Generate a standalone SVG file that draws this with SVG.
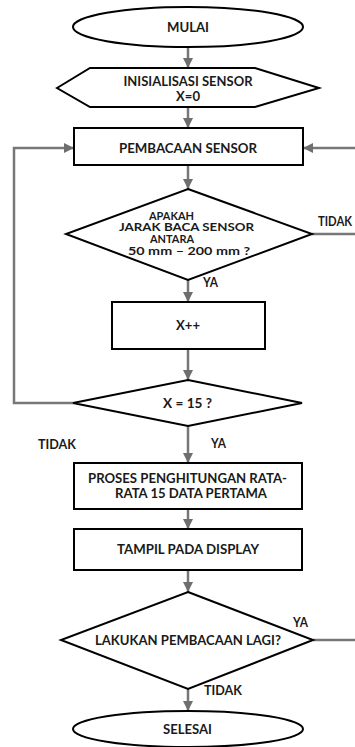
<svg xmlns="http://www.w3.org/2000/svg" width="355" height="747" viewBox="0 0 355 747">
<style>
.s{fill:#fff;stroke:#000;stroke-width:2}
.t{font-family:Lato,"Liberation Sans",sans-serif;font-weight:bold;font-size:12.5px;fill:#1a1a1a;text-anchor:middle}
.d{font-size:11px}
.l{font-family:Lato,"Liberation Sans",sans-serif;font-weight:bold;font-size:12.5px;fill:#1a1a1a}
.c{fill:none;stroke:#777;stroke-width:2.5}
</style>
<defs>
<marker id="ah" markerUnits="userSpaceOnUse" markerWidth="12" markerHeight="10" refX="10" refY="5" orient="auto">
<path d="M0,0 L10,5 L0,10 Z" fill="#6e6e6e"/>
</marker>
</defs>
<rect width="355" height="747" fill="#fff"/>
<g id="connectors">
<line class="c" x1="188" y1="47" x2="188" y2="68" marker-end="url(#ah)"/>
<line class="c" x1="188" y1="107" x2="188" y2="128" marker-end="url(#ah)"/>
<line class="c" x1="188" y1="165" x2="188" y2="189" marker-end="url(#ah)"/>
<line class="c" x1="188" y1="280" x2="188" y2="302" marker-end="url(#ah)"/>
<line class="c" x1="188" y1="349" x2="188" y2="380" marker-end="url(#ah)"/>
<line class="c" x1="188" y1="426" x2="188" y2="463" marker-end="url(#ah)"/>
<line class="c" x1="188" y1="509" x2="188" y2="529" marker-end="url(#ah)"/>
<line class="c" x1="188" y1="570" x2="188" y2="592" marker-end="url(#ah)"/>
<line class="c" x1="188" y1="689" x2="188" y2="711" marker-end="url(#ah)"/>
<polyline class="c" points="73,403 14,403 14,148 74,148" marker-end="url(#ah)"/>
<polyline class="c" points="313,640 358,640 358,148 303,148" marker-end="url(#ah)"/>
<line class="c" x1="312" y1="234" x2="358" y2="234"/>
</g>
<g id="mulai">
<ellipse class="s" cx="188" cy="27" rx="115" ry="20"/>
<text class="t" x="188" y="31.5" textLength="42" lengthAdjust="spacingAndGlyphs">MULAI</text>
</g>
<g id="inisialisasi">
<polygon class="s" points="57,88 90,68 255,68 319,88 255,107 90,107"/>
<text class="t" x="188" y="85.5" textLength="129" lengthAdjust="spacingAndGlyphs">INISIALISASI SENSOR</text>
<text class="t" x="188" y="100.5" textLength="24" lengthAdjust="spacingAndGlyphs">X=0</text>
</g>
<g id="pembacaan">
<rect class="s" x="74" y="128" width="229" height="37"/>
<text class="t" x="188" y="152.5" textLength="138" lengthAdjust="spacingAndGlyphs">PEMBACAAN SENSOR</text>
</g>
<g id="cek-jarak">
<polygon class="s" points="188,189 312,234 188,280 66,234"/>
<text class="t d" x="171.5" y="219.5" textLength="45" lengthAdjust="spacingAndGlyphs">APAKAH</text>
<text class="t d" x="186.5" y="231" textLength="135" lengthAdjust="spacingAndGlyphs">JARAK BACA SENSOR</text>
<text class="t d" x="172" y="242.5" textLength="44" lengthAdjust="spacingAndGlyphs">ANTARA</text>
<text class="t d" x="189" y="254.5" textLength="122" lengthAdjust="spacingAndGlyphs">50 mm – 200 mm ?</text>
</g>
<g id="xpp">
<rect class="s" x="112" y="302" width="153" height="47"/>
<text class="t" x="188" y="329.5" textLength="24" lengthAdjust="spacingAndGlyphs">X++</text>
</g>
<g id="cek-x">
<polygon class="s" points="188,380 302,403 188,426 73,403"/>
<text class="t" x="187.5" y="407.5" textLength="49" lengthAdjust="spacingAndGlyphs">X = 15 ?</text>
</g>
<g id="proses">
<rect class="s" x="74" y="463" width="228" height="46"/>
<text class="t" x="187.5" y="482.5" textLength="199" lengthAdjust="spacingAndGlyphs">PROSES PENGHITUNGAN RATA-</text>
<text class="t" x="191" y="497.5" textLength="152" lengthAdjust="spacingAndGlyphs">RATA 15 DATA PERTAMA</text>
</g>
<g id="tampil">
<rect class="s" x="74" y="529" width="228" height="41"/>
<text class="t" x="188" y="553.5" textLength="142" lengthAdjust="spacingAndGlyphs">TAMPIL PADA DISPLAY</text>
</g>
<g id="lakukan">
<polygon class="s" points="188,592 313,640 188,689 61,640"/>
<text class="t" x="188" y="644.5" textLength="186" lengthAdjust="spacingAndGlyphs">LAKUKAN PEMBACAAN LAGI?</text>
</g>
<g id="selesai">
<ellipse class="s" cx="188" cy="729" rx="115" ry="18"/>
<text class="t" x="187.5" y="734" textLength="49" lengthAdjust="spacingAndGlyphs">SELESAI</text>
</g>
<g id="labels">
<text class="l" x="318" y="225.5" textLength="34" lengthAdjust="spacingAndGlyphs">TIDAK</text>
<text class="l" x="203" y="286.5" textLength="15" lengthAdjust="spacingAndGlyphs">YA</text>
<text class="l" x="38" y="448.5" textLength="38" lengthAdjust="spacingAndGlyphs">TIDAK</text>
<text class="l" x="211" y="447.5" textLength="15" lengthAdjust="spacingAndGlyphs">YA</text>
<text class="l" x="293" y="626.5" textLength="15" lengthAdjust="spacingAndGlyphs">YA</text>
<text class="l" x="204" y="694.5" textLength="38" lengthAdjust="spacingAndGlyphs">TIDAK</text>
</g>
</svg>
